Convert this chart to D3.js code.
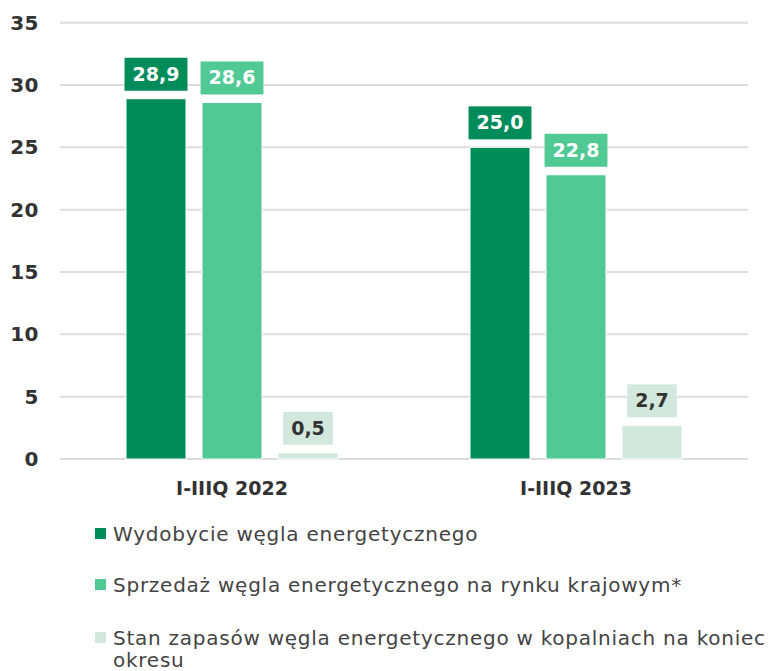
<!DOCTYPE html>
<html><head><meta charset="utf-8">
<script src="https://cdn.jsdelivr.net/npm/d3@7"></script>
<style>
html,body{margin:0;padding:0;background:#fff;}
svg{display:block;}
text{font-family:"DejaVu Sans",sans-serif;}
</style></head>
<body>
<script>
const categories = ["I-IIIQ 2022", "I-IIIQ 2023"];
const seriesNames = [
  "Wydobycie węgla energetycznego",
  "Sprzedaż węgla energetycznego na rynku krajowym*",
  "Stan zapasów węgla energetycznego w kopalniach na koniec okresu"
];
const wydobycie = [28.9, 25.0];
const sprzedaz = [28.6, 22.8];
const zapasy = [0.5, 2.7];
const yTicks = [0, 5, 10, 15, 20, 25, 30, 35];
const colors = ["#008c5a", "#50c995", "#d3e8dc"];
const labelText = ["#ffffff", "#ffffff", "#333333"];

const W = 771, H = 671;
const svg = d3.select("body").append("svg").attr("width", W).attr("height", H);

const series = [wydobycie, sprzedaz, zapasy];
const x0 = d3.scaleBand().domain(categories).range([60, 748]);
const x1 = d3.scaleBand().domain(d3.range(3)).range([66, 344 - 66]).paddingInner(16/76);
const y = d3.scaleLinear().domain([0, 35]).range([459, 22.7]);

// grid
svg.append("g").selectAll("line").data(yTicks).join("line")
  .attr("x1", 60).attr("x2", 748)
  .attr("y1", d => y(d)).attr("y2", d => y(d))
  .attr("stroke", "#dcdcdc").attr("stroke-width", 2);

// y axis labels
const yAxis = d3.axisLeft(y).tickValues(yTicks).tickSize(0).tickPadding(0);
const gy = svg.append("g").attr("transform", "translate(39,0)").call(yAxis);
gy.select(".domain").remove();
gy.selectAll("text").attr("font-size", 20).attr("font-weight", "bold").attr("fill", "#333")
  .attr("font-family", "DejaVu Sans").attr("letter-spacing", 0.5);

// x axis labels
const xAxis = d3.axisBottom(x0).tickSize(0).tickPadding(0);
const gx = svg.append("g").attr("transform", "translate(0,481)").call(xAxis);
gx.select(".domain").remove();
gx.selectAll("text").attr("font-size", 19).attr("font-weight", "bold").attr("fill", "#333")
  .attr("font-family", "DejaVu Sans");

// bars
const data = [];
categories.forEach((c, ci) => series.forEach((s, si) => data.push({c, si, v: s[ci]})));
const fmt = v => d3.format(".1f")(v).replace(".", ",");

const g = svg.append("g");
g.selectAll("rect.bar").data(data).join("rect").attr("class", "bar")
  .attr("x", d => x0(d.c) + x1(d.si))
  .attr("width", x1.bandwidth())
  .attr("y", d => y(d.v))
  .attr("height", d => y(0) - y(d.v))
  .attr("fill", d => colors[d.si])
  .attr("stroke", "#ffffff").attr("stroke-width", 1);

// labels
data.forEach(d => {
  const cx = x0(d.c) + x1(d.si) + x1.bandwidth()/2;
  const bottom = y(d.v) - 8;
  const t = g.append("text").text(fmt(d.v))
    .attr("x", cx).attr("y", bottom - 10)
    .attr("text-anchor", "middle")
    .attr("font-size", 19).attr("font-weight", "bold")
    .attr("fill", labelText[d.si]);
  const w = t.node().getComputedTextLength();
  g.insert("rect", () => t.node())
    .attr("x", cx - w/2 - 8).attr("width", w + 16)
    .attr("y", bottom - 33).attr("height", 33)
    .attr("fill", colors[d.si]);
});

// legend
const leg = svg.append("g");
const rows = [{y: 533, lines: [seriesNames[0]]}, {y: 584, lines: [seriesNames[1]]},
  {y: 637, lines: ["Stan zapasów węgla energetycznego w kopalniach na koniec", "okresu"]}];
rows.forEach((r, i) => {
  leg.append("rect").attr("x", 95).attr("y", r.y - 5).attr("width", 11).attr("height", 11).attr("fill", colors[i]);
  r.lines.forEach((l, li) => {
    leg.append("text").text(l).attr("x", 113).attr("y", r.y + 8 + li * 22)
      .attr("font-size", 20).attr("letter-spacing", 0.75).attr("fill", "#444");
  });
});
</script>
</body></html>
